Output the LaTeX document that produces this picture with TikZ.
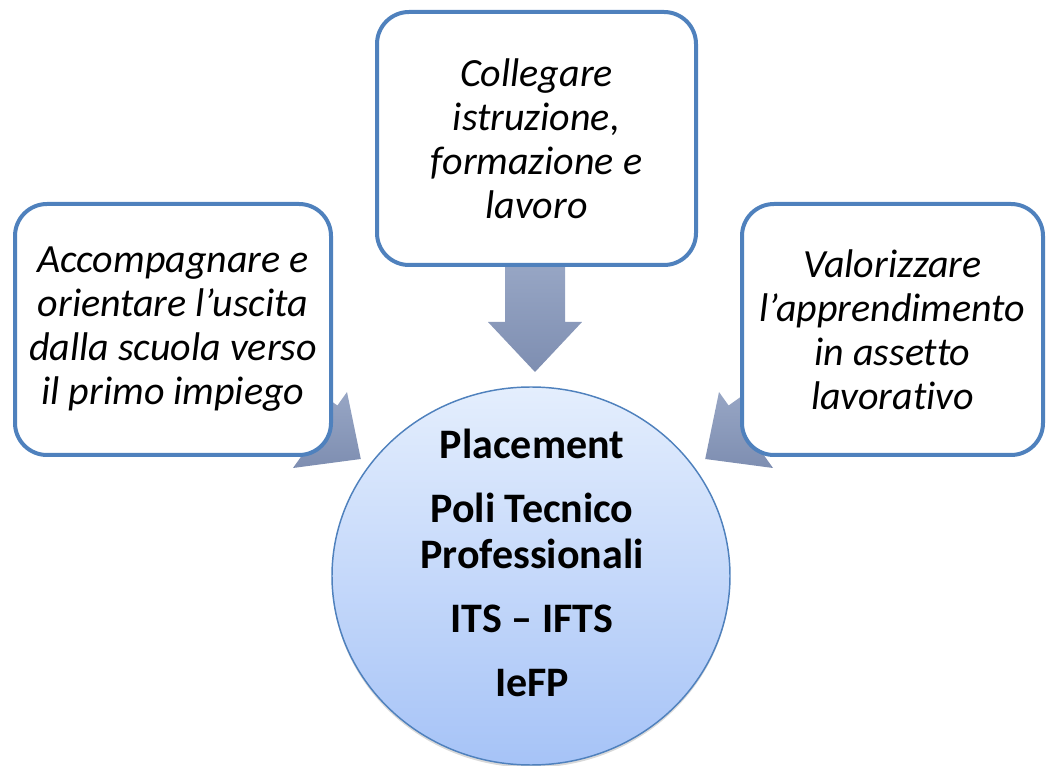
\documentclass[tikz,border=0pt]{standalone}
\usepackage{fontspec}
\setmainfont{Carlito}[Ligatures=NoCommon]
\usepackage{xcolor}
\usepackage{tikz}
\usetikzlibrary{shapes.geometric,shadows}

\definecolor{frameblue}{HTML}{4F81BD}
\definecolor{arrowtop}{HTML}{A6B4D0}
\definecolor{arrowbot}{HTML}{7E8EB1}
\definecolor{hubtop}{HTML}{E4EEFD}
\definecolor{hubbot}{HTML}{A6C3F7}

\begin{document}
\begin{tikzpicture}
            [
                x=0.75pt, y=-0.75pt,
                font=\fontsize{30}{33}\selectfont
            ]
            \tikzset{
                goalbox/.style = {rectangle, rounded corners=24pt, draw=frameblue, line width=3pt,
                                  fill=white, align=center, inner sep=0pt, font=\fontsize{30}{33}\selectfont\itshape},
                hubnode/.style = {ellipse, draw=frameblue, line width=1.1pt, top color=hubtop, bottom color=hubbot,
                                  minimum width=298.5pt, minimum height=283.5pt, inner sep=0pt,
                                  drop shadow={opacity=0.3, shadow xshift=0pt, shadow yshift=-2pt}},
                blockarrow/.style = {top color=arrowtop, bottom color=arrowbot, draw=none}
            }
            \useasboundingbox (0,0) rectangle (1047,766);
            % arrows first, the boxes cover their tails
            \shade[blockarrow] (505,200) -- (565,200) -- (565,322) -- (582,322) -- (535,372)
                                 -- (488,322) -- (505,322) -- cycle;
            \shade[blockarrow] (221,396.5) -- (302.6,454.5) -- (293,468) -- (360.8,459)
                                 -- (347,392) -- (337.4,405.5) -- (256,347.5) -- cycle;
            \shade[blockarrow] (845,396.5) -- (763.4,454.5) -- (773,468) -- (705.2,459)
                                 -- (719,392) -- (728.6,405.5) -- (810,347.5) -- cycle;
            % the three goals
            \node[goalbox, minimum width=239.25pt, minimum height=189.75pt] (top) at (536.5,138.5)
                {Collegare\\ istruzione,\\ formazione e\\ lavoro};
            \node[goalbox, minimum width=237pt, minimum height=188.25pt] (left) at (173,329.5)
                {Accompagnare e\\ orientare l’uscita\\ dalla scuola verso\\ il primo impiego};
            \node[goalbox, minimum width=225.75pt, minimum height=188.25pt] (right) at (892.5,329.5)
                {Valorizzare\\ l’apprendimento\\ in assetto\\ lavorativo};
            % centre
            \node[hubnode] (hub) at (531,576) {};
            \node[align=center, font=\fontsize{31.5}{35}\selectfont\bfseries, inner sep=0pt] (hubtext) at (532,563)
                {Placement\\[13pt] Poli Tecnico\\ Professionali\\[13pt] ITS – IFTS\\[13pt] IeFP};
        \end{tikzpicture}
\end{document}
